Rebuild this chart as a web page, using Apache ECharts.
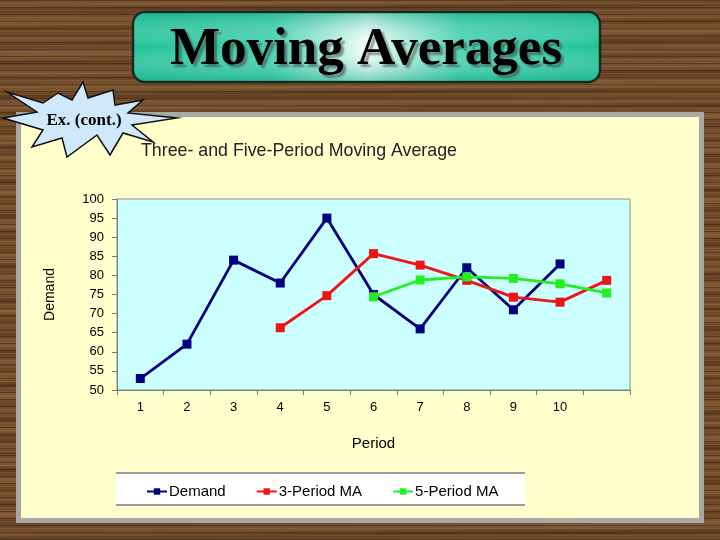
<!DOCTYPE html>
<html>
<head>
<meta charset="utf-8">
<script src="https://cdn.jsdelivr.net/npm/echarts@6/dist/echarts.min.js"></script>
<style>
html,body{margin:0;padding:0;}
body{width:720px;height:540px;overflow:hidden;position:relative;
background-color:#7a5432;
background-image:
 repeating-linear-gradient(180deg, rgba(45,25,8,.40) 0px, rgba(45,25,8,.40) 1px, rgba(0,0,0,0) 1px, rgba(0,0,0,0) 3px, rgba(170,120,70,.30) 3px, rgba(170,120,70,.30) 4px, rgba(0,0,0,0) 4px, rgba(0,0,0,0) 7px),
 repeating-linear-gradient(179.4deg, rgba(120,80,40,0) 0px, rgba(150,105,60,.30) 6px, rgba(55,32,12,.30) 11px, rgba(120,80,40,0) 17px),
 repeating-linear-gradient(180.5deg, rgba(0,0,0,0) 0px, rgba(60,35,15,.25) 13px, rgba(0,0,0,0) 29px);
}
#panel{position:absolute;left:16px;top:112px;width:678px;height:401px;border:5px solid #a8a8a8;background:#ffffcc;}
#legbox{position:absolute;left:116px;top:472px;width:409px;height:30px;background:#ffffff;border-top:2px solid #9a9a9a;border-bottom:2px solid #9a9a9a;}
#chart{position:absolute;left:0;top:0;width:720px;height:540px;}
</style>
</head>
<body>
<div id="panel"></div>
<div id="legbox"></div>
<div id="chart"></div>
<script>
var periods = ['1','2','3','4','5','6','7','8','9','10',''];
var demand = [53, 62, 84, 78, 95, 75, 66, 82, 71, 83, null];
var ma3 = [null, null, null, 66.3, 74.7, 85.7, 82.7, 78.7, 74.3, 73.0, 78.7];
var ma5 = [null, null, null, null, null, 74.4, 78.8, 79.6, 79.2, 77.8, 75.4];
var yTicks = {min: 50, max: 100, interval: 5};

var chart = echarts.init(document.getElementById('chart'), null, {renderer: 'canvas'});
var lineW = 2.8;
function mkSeries(name, data, color, size) {
  return {
    name: name, type: 'line', data: data, symbol: 'rect', symbolSize: size,
    showSymbol: true, connectNulls: false,
    lineStyle: {color: color, width: lineW},
    itemStyle: {color: color},
    emphasis: {disabled: true}
  };
}
var starPts = [[7,92],[43,103],[58,93],[72,100],[83,82],[88,98],[113,90],[115,105],[143,100],[128,113],[177,118],[132,125],[153,142],[123,133],[110,155],[97,135],[67,157],[62,138],[32,147],[43,130],[3,118],[37,112]];

chart.setOption({
  backgroundColor: 'transparent',
  animation: false,
  textStyle: {fontFamily: 'Liberation Sans, Arial, sans-serif'},
  grid: {left: 117, right: 90, top: 199, bottom: 150, show: true,
    backgroundColor: '#ccffff', borderColor: '#8a8a8a', borderWidth: 1},
  xAxis: {
    type: 'category', data: periods, boundaryGap: true,
    axisLine: {lineStyle: {color: '#7a7a7a', width: 1}},
    axisTick: {show: true, length: 5, lineStyle: {color: '#7a7a7a'}},
    axisLabel: {color: '#000', fontSize: 13, margin: 11},
    name: 'Period', nameLocation: 'middle', nameGap: 46,
    nameTextStyle: {color: '#000', fontSize: 15}
  },
  yAxis: {
    type: 'value', min: yTicks.min, max: yTicks.max, interval: yTicks.interval,
    axisLine: {show: true, lineStyle: {color: '#7a7a7a', width: 1}},
    axisTick: {show: true, length: 5, lineStyle: {color: '#7a7a7a'}},
    axisLabel: {color: '#000', fontSize: 13, margin: 13},
    splitLine: {show: false},
    name: 'Demand', nameLocation: 'middle', nameGap: 60, nameRotate: 90,
    nameTextStyle: {color: '#000', fontSize: 14}
  },
  legend: {
    left: 141, top: 479, itemWidth: 20, itemHeight: 8, itemGap: 30,
    textStyle: {color: '#000', fontSize: 15, padding: [0,0,0,-3]},
    data: ['Demand', '3-Period MA', '5-Period MA']
  },
  series: [
    mkSeries('Demand', demand, '#000080', 9),
    mkSeries('3-Period MA', ma3, '#f01414', 9),
    mkSeries('5-Period MA', ma5, '#22ee22', 9)
  ],
  graphic: [
    {type: 'text', left: 141, top: 142, z: 10, style: {text: 'Three- and Five-Period Moving Average', fontSize: 17.8, fill: '#222', fontFamily: 'Liberation Sans, Arial, sans-serif'}},
    {type: 'rect', shape: {x: 133, y: 12, width: 467, height: 70, r: 12}, z: 10,
      style: {fill: {type: 'linear', x: 0, y: 0, x2: 1, y2: 0, colorStops: [
        {offset: 0, color: '#1fc299'}, {offset: 0.3, color: '#3fd0ad'}, {offset: 0.5, color: '#f2fffb'},
        {offset: 0.7, color: '#44d2b0'}, {offset: 1, color: '#1fc299'}]},
        stroke: '#14281e', lineWidth: 2.5}},
    {type: 'rect', shape: {x: 134, y: 13, width: 465, height: 68, r: 11}, z: 11,
      style: {fill: {type: 'linear', x: 0, y: 0, x2: 0, y2: 1, colorStops: [
        {offset: 0, color: 'rgba(20,170,130,0.55)'}, {offset: 0.5, color: 'rgba(255,255,255,0)'},
        {offset: 1, color: 'rgba(20,170,130,0.55)'}]}}},
    {type: 'text', x: 366, y: 50, z: 12,
      style: {text: 'Moving Averages', fontSize: 53, fontWeight: 'bold', fontFamily: 'Liberation Serif, Times New Roman, serif',
        fill: '#000', align: 'center', verticalAlign: 'middle',
        textShadowColor: 'rgba(60,60,60,0.55)', textShadowOffsetX: 3, textShadowOffsetY: 3, textShadowBlur: 2}},
    {type: 'polygon', shape: {points: starPts}, z: 12,
      style: {fill: '#cfe8fb', stroke: '#111', lineWidth: 1.5}},
    {type: 'text', x: 84, y: 121, z: 13,
      style: {text: 'Ex. (cont.)', fontSize: 17, fontWeight: 'bold', fontFamily: 'Liberation Serif, Times New Roman, serif',
        fill: '#000', align: 'center', verticalAlign: 'middle'}}
  ]
});
</script>
</body>
</html>
